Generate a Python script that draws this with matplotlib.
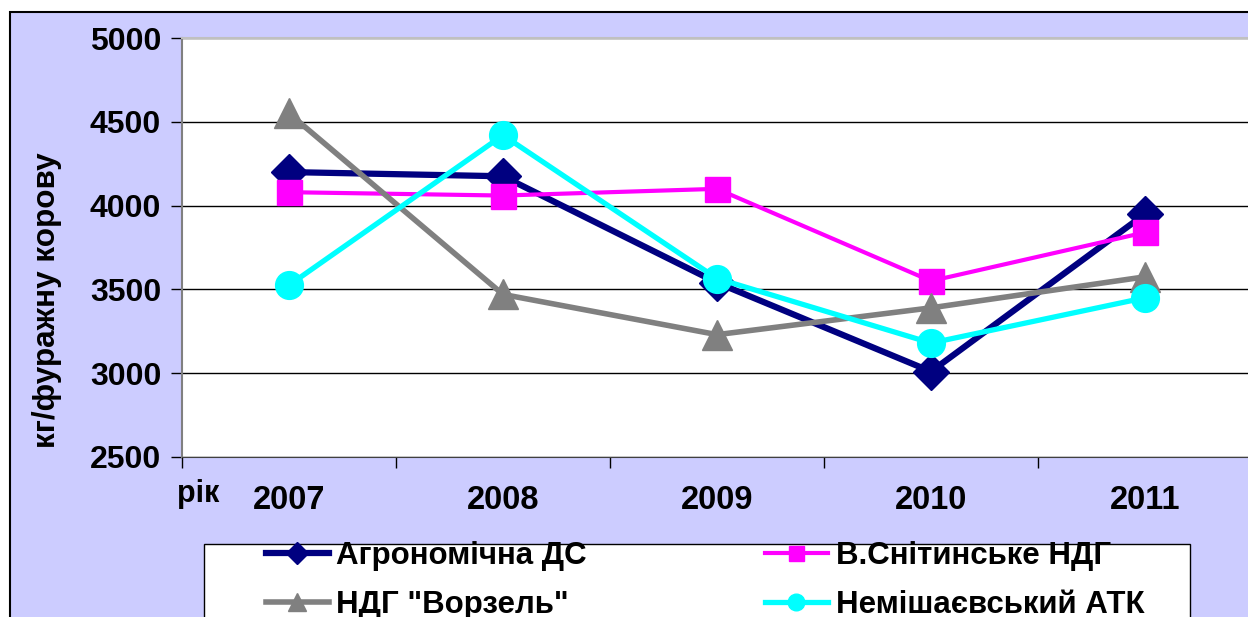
import matplotlib
matplotlib.use("Agg")
import matplotlib.pyplot as plt
from matplotlib.patches import Rectangle

# data
years = ["2007", "2008", "2009", "2010", "2011"]
agro_ds = [4200, 4175, 3540, 3010, 3950]
v_snit = [4080, 4060, 4100, 3550, 3840]
vorzel = [4550, 3470, 3230, 3390, 3575]
nemish = [3525, 4420, 3565, 3180, 3450]

names = ["Агрономічна ДС", "В.Снітинське НДГ", 'НДГ "Ворзель"', "Немішаєвський АТК"]
colors = ["#000080", "#FF00FF", "#808080", "#00FFFF"]
markers = ["D", "s", "^", "o"]
msizes = [18, 18, 22, 20]
lwidths = [4.5, 3.0, 4.0, 3.8]

plt.rcParams['font.family'] = ['Liberation Sans', 'DejaVu Sans']
plt.rcParams['font.weight'] = 'bold'

W, H = 1248, 617
fig = plt.figure(figsize=(W / 100, H / 100), dpi=100)
fig.patch.set_facecolor("white")

# lavender chart area with black border (cut off at right / bottom)
fig.patches.append(Rectangle((10 / W, -0.2), 1.2, (H - 12) / H + 0.2,
                             transform=fig.transFigure, facecolor="#CCCCFF",
                             edgecolor="black", linewidth=1.5, zorder=-10))
# legend box
fig.patches.append(Rectangle((204 / W, -0.2), (1190 - 204) / W, (H - 544) / H + 0.2,
                             transform=fig.transFigure, facecolor="white",
                             edgecolor="black", linewidth=1.0, zorder=-5))

ax = fig.add_axes([182 / W, (H - 457) / H, (1252 - 182) / W, (457 - 38) / H])
ax.set_facecolor("white")

series = [agro_ds, v_snit, vorzel, nemish]
x = list(range(len(years)))
handles = []
for vals, nm, c, m, ms, lw in zip(series, names, colors, markers, msizes, lwidths):
    h, = ax.plot(x, vals, color=c, marker=m, markersize=ms, linewidth=lw,
                 label=nm, clip_on=False, zorder=3)
    handles.append(h)

ax.set_xlim(-0.5, 4.5)
ax.set_ylim(2500, 5000)
ax.set_yticks([2500, 3000, 3500, 4000, 4500, 5000])
ax.grid(axis="y", color="black", linewidth=1.0)
ax.set_axisbelow(True)

# category axis: ticks between categories, labels at the centres
ax.set_xticks([i - 0.5 for i in range(len(years) + 1)])
ax.set_xticklabels([])
ax.set_xticks(x, minor=True)
ax.set_xticklabels(years, minor=True, fontsize=23.5, fontweight="bold")
ax.tick_params(axis="x", which="minor", length=0, pad=20)
ax.tick_params(axis="x", which="major", length=8, width=1, color="black")
ax.tick_params(axis="y", length=8, width=1, color="black", pad=7,
               labelsize=23)
for lab in ax.get_yticklabels():
    lab.set_fontweight("bold")

ax.spines["left"].set_color("#808080")
ax.spines["left"].set_linewidth(1.5)
ax.spines["bottom"].set_color("#404040")
ax.spines["top"].set_color("#c0c0c0")
ax.spines["top"].set_linewidth(1.5)
ax.spines["right"].set_visible(False)

fig.text(47 / W, 1 - 300 / H, "кг/фуражну корову", rotation=90,
         ha="center", va="center", fontsize=22.7, fontweight="bold")
fig.text(198 / W, 1 - 494 / H, "рік", ha="center", va="center",
         fontsize=22, fontweight="bold")

order = [handles[0], handles[2], handles[1], handles[3]]
leg = fig.legend(order, [h.get_label() for h in order], ncol=2,
                 loc="upper left", bbox_to_anchor=(238 / W, 1 - 513 / H),
                 frameon=False, handlelength=2.0,
                 handletextpad=0.25, columnspacing=5.7, labelspacing=0.59,
                 markerscale=0.6, prop={"weight": "bold", "size": 22.5})

fig.savefig("out.png", dpi=100)
